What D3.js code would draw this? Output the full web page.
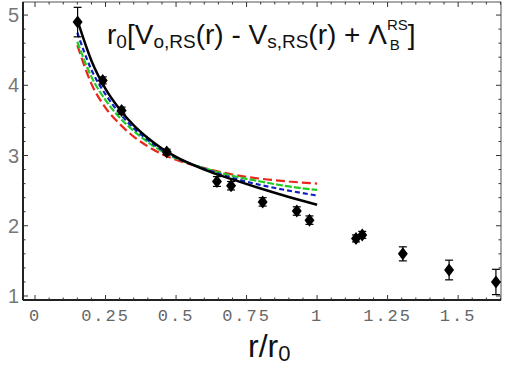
<!DOCTYPE html>
<html><head><meta charset="utf-8">
<script src="https://cdn.jsdelivr.net/npm/d3@7"></script>
<style>body{margin:0;background:#fff}svg{display:block}</style>
</head><body>
<svg id="c" width="505" height="373"></svg>
<script>
// data
const ptX   = [0.151, 0.240, 0.307, 0.467, 0.645, 0.695, 0.807, 0.928, 0.973, 1.138, 1.160, 1.304, 1.468, 1.634];
const ptY   = [4.90, 4.07, 3.64, 3.05, 2.63, 2.57, 2.34, 2.21, 2.08, 1.82, 1.87, 1.60, 1.37, 1.20];
const ptErr = [0.21, 0.05, 0.05, 0.04, 0.07, 0.06, 0.06, 0.06, 0.06, 0.05, 0.05, 0.10, 0.14, 0.18];
const curveX = [0.15, 0.2, 0.25, 0.3, 0.35, 0.4, 0.45, 0.5, 0.6, 0.7, 0.8, 0.9, 1.0];
const blackY = [4.93, 4.35, 3.95, 3.66, 3.43, 3.25, 3.10, 2.98, 2.80, 2.66, 2.53, 2.41, 2.30];
const blueY  = [4.75, 4.22, 3.87, 3.60, 3.39, 3.22, 3.08, 2.97, 2.81, 2.68, 2.58, 2.50, 2.43];
const greenY = [4.62, 4.12, 3.79, 3.54, 3.35, 3.19, 3.06, 2.96, 2.82, 2.71, 2.63, 2.56, 2.51];
const redY   = [4.57, 4.02, 3.68, 3.45, 3.27, 3.13, 3.02, 2.94, 2.82, 2.73, 2.67, 2.63, 2.60];
const xTicks = [0, 0.25, 0.5, 0.75, 1, 1.25, 1.5];
const xTickLabels = ["0", "0.25", "0.5", "0.75", "1", "1.25", "1.5"];
const yTicks = [1, 2, 3, 4, 5];

const svg = d3.select("#c");
const L = 23, R = 501, T = 2, B = 300;
const x = d3.scaleLinear().domain([-0.0426, 1.652]).range([L, R]);
const y = d3.scaleLinear().domain([0.943, 5.186]).range([B, T]);

// frame
svg.append("rect").attr("x", L).attr("y", T).attr("width", R - L).attr("height", B - T)
  .attr("fill", "none").attr("stroke", "#555").attr("stroke-width", 1);
svg.append("line").attr("x1", L).attr("x2", L).attr("y1", T).attr("y2", B).attr("stroke", "#222").attr("stroke-width", 2);
svg.append("line").attr("x1", L).attr("x2", R).attr("y1", B).attr("y2", B).attr("stroke", "#222").attr("stroke-width", 2);

// ticks
const minorX = d3.range(0, 1.66, 0.05);
const minorY = d3.range(1, 5.19, 0.2);
const tk = svg.append("g").attr("stroke", "#333").attr("stroke-width", 1);
minorX.forEach(v => {
  const major = xTicks.some(t => Math.abs(t - v) < 1e-6);
  const len = major ? 5 : 2.5;
  tk.append("line").attr("x1", x(v)).attr("x2", x(v)).attr("y1", B).attr("y2", B - len);
  tk.append("line").attr("x1", x(v)).attr("x2", x(v)).attr("y1", T).attr("y2", T + len);
});
minorY.forEach(v => {
  const major = yTicks.some(t => Math.abs(t - v) < 1e-6);
  const len = major ? 5 : 2.5;
  tk.append("line").attr("x1", L).attr("x2", L + len).attr("y1", y(v)).attr("y2", y(v));
  tk.append("line").attr("x1", R).attr("x2", R - len).attr("y1", y(v)).attr("y2", y(v));
});

// tick labels
svg.append("g").selectAll("text").data(xTicks).join("text")
  .attr("x", d => x(d)).attr("y", 321)
  .attr("text-anchor", "middle")
  .attr("font-family", "Liberation Mono, DejaVu Sans Mono, monospace")
  .attr("font-size", 17).attr("letter-spacing", 2).attr("fill", "#666")
  .text((d, i) => xTickLabels[i]);
svg.append("g").selectAll("text").data(yTicks).join("text")
  .attr("x", 19).attr("y", d => y(d) + 7)
  .attr("text-anchor", "end")
  .attr("font-family", "Liberation Sans, Arial, sans-serif")
  .attr("font-size", 20).attr("fill", "#777")
  .text(d => d);

// curves
const line = d3.line().x(d => x(d[0])).y(d => y(d[1])).curve(d3.curveMonotoneX);
const curves = [
  {ys: redY, color: "#e8261c", dash: "9,4", w: 2.2},
  {ys: greenY, color: "#22cc22", dash: "7,2", w: 2.2},
  {ys: blueY, color: "#1020c0", dash: "5,3", w: 2.2},
  {ys: blackY, color: "#000", dash: null, w: 2.5}
];
curves.forEach(c => {
  svg.append("path").datum(curveX.map((v, i) => [v, c.ys[i]]))
    .attr("d", line).attr("fill", "none").attr("stroke", c.color)
    .attr("stroke-width", c.w).attr("stroke-dasharray", c.dash);
});

// error bars
const eb = svg.append("g").attr("stroke", "#000").attr("stroke-width", 1.2);
ptX.forEach((v, i) => {
  const y1 = y(ptY[i] + ptErr[i]), y2 = y(ptY[i] - ptErr[i]);
  eb.append("line").attr("x1", x(v)).attr("x2", x(v)).attr("y1", y1).attr("y2", y2);
  eb.append("line").attr("x1", x(v) - 4).attr("x2", x(v) + 4).attr("y1", y1).attr("y2", y1);
  eb.append("line").attr("x1", x(v) - 4).attr("x2", x(v) + 4).attr("y1", y2).attr("y2", y2);
});
// markers
const diamond = "M0,-6.5L5,0L0,6.5L-5,0Z";
svg.append("g").selectAll("path").data(ptX).join("path")
  .attr("transform", (d, i) => `translate(${x(d)},${y(ptY[i])})`)
  .attr("d", diamond).attr("fill", "#000");

// title
const ff = "Liberation Sans Narrow, Liberation Sans, Arial, sans-serif";
const t = svg.append("text").attr("x", 107).attr("y", 44)
  .attr("font-family", ff).attr("font-size", 28).attr("fill", "#111");
const parts = [
  ["r", 0], ["0", 1], ["[V", 0], ["o,RS", 1], ["(r) - V", 0], ["s,RS", 1], ["(r) + Λ", 0]
];
parts.forEach(p => {
  const s = t.append("tspan").text(p[0]);
  if (p[1]) s.attr("font-size", 19).attr("baseline-shift", "-4");
});
t.append("tspan").attr("font-size", 15).attr("dy", -14).text("RS");
t.append("tspan").attr("font-size", 15).attr("dx", -18).attr("dy", 20).text("B");
t.append("tspan").attr("dx", 8).attr("dy", -6).text("]");

// x-axis label
const xl = svg.append("text").attr("x", 248).attr("y", 357)
  .attr("font-family", ff).attr("font-size", 32).attr("fill", "#111");
xl.append("tspan").text("r/r");
xl.append("tspan").attr("font-size", 22).attr("baseline-shift", "-4").text("0");
</script>
</body></html>
